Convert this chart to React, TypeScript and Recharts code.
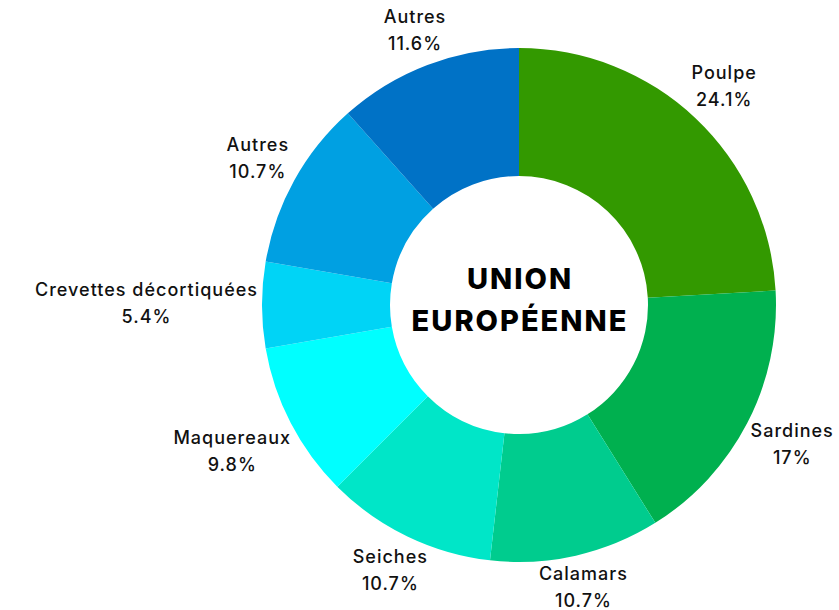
import { PieChart, Pie, Cell } from 'recharts'

const names = [
  'Poulpe',
  'Sardines',
  'Calamars',
  'Seiches',
  'Maquereaux',
  'Crevettes décortiquées',
  'Autres',
  'Autres',
]
const shares = [24.1, 17, 10.7, 10.7, 9.8, 5.4, 10.7, 11.6]
const colors = [
  '#339900',
  '#00b04f',
  '#00cc8e',
  '#00e6c8',
  '#00ffff',
  '#00d4f6',
  '#00a0e2',
  '#0072c6',
]
const centerLines = ['UNION', 'EUROPÉENNE']

const data = names.map((name, i) => ({ name, value: shares[i] }))

const FONT = 'Inter, "Noto Sans", sans-serif'
const LABEL_SIZE = 18
const SPACING = 1
const LINE_H = 27
const RAD = Math.PI / 180
const CX = 519
const CY = 305

let ctx: CanvasRenderingContext2D | null = null
function textWidth(s: string) {
  if (!ctx) ctx = document.createElement('canvas').getContext('2d')
  if (!ctx) return s.length * LABEL_SIZE * 0.6
  ctx.font = `500 ${LABEL_SIZE}px ${FONT}`
  return ctx.measureText(s).width + SPACING * s.length
}

// label block sits just outside the ring, pushed out along the slice's mid angle
const renderLabel = (props: any) => {
  const { cx, cy, midAngle, outerRadius, name, value } = props
  const pct = `${value}%`
  const w = Math.max(textWidth(name), textWidth(pct))
  const h = 42
  const dx = Math.cos(-midAngle * RAD)
  const dy = Math.sin(-midAngle * RAD)
  const push = outerRadius + 4 + Math.abs(dx) * (w / 2) + Math.abs(dy) * (h / 2)
  const x = cx + push * dx
  const y = cy + push * dy
  return (
    <text
      x={x}
      y={y}
      textAnchor="middle"
      fill="#111"
      fontSize={LABEL_SIZE}
      fontFamily={FONT}
      fontWeight={500}
      letterSpacing={SPACING}
    >
      <tspan x={x} y={y - 9}>
        {name}
      </tspan>
      <tspan x={x} y={y - 9 + LINE_H}>
        {pct}
      </tspan>
    </text>
  )
}

export default function App() {
  return (
    <div style={{ position: 'absolute', left: 0, top: 0, background: '#fff' }}>
      <PieChart width={839} height={610} margin={{ top: 0, right: 0, bottom: 0, left: 0 }}>
        <Pie
          data={data}
          dataKey="value"
          nameKey="name"
          cx={CX}
          cy={CY}
          innerRadius={129}
          outerRadius={257}
          startAngle={90}
          endAngle={-270}
          stroke="none"
          label={renderLabel}
          labelLine={false}
          isAnimationActive={false}
        >
          {data.map((d, i) => (
            <Cell key={i} fill={colors[i]} />
          ))}
        </Pie>
        <text
          x={CX}
          y={CY}
          textAnchor="middle"
          fill="#000"
          fontSize={29}
          fontWeight={800}
          fontFamily={FONT}
          letterSpacing={2}
        >
          <tspan x={CX + 1} y={CY - 16}>
            {centerLines[0]}
          </tspan>
          <tspan x={CX + 1} y={CY + 26}>
            {centerLines[1]}
          </tspan>
        </text>
      </PieChart>
    </div>
  )
}
